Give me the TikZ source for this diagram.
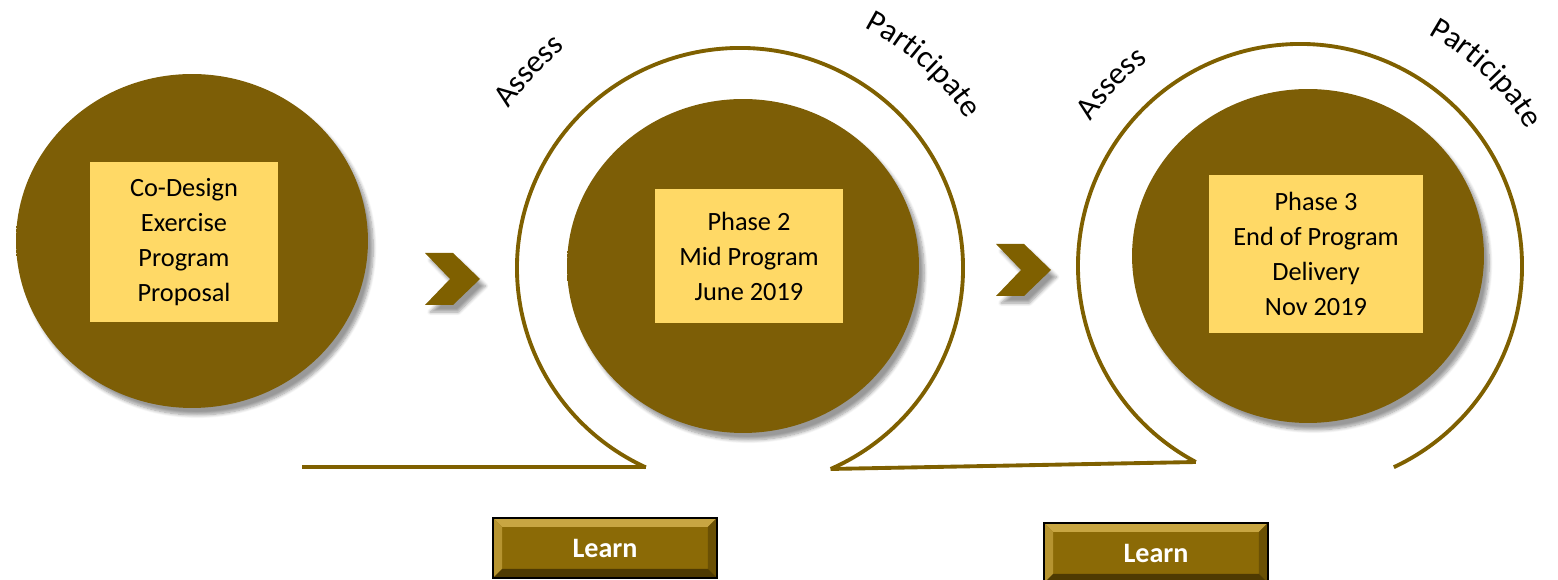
\documentclass[tikz,border=0pt]{standalone}
\usepackage{fontspec}
\setmainfont{Carlito}
\usetikzlibrary{shapes.geometric,calc,shadows,shadows.blur,decorations.text}

\definecolor{ochre}{RGB}{127,96,0}
\definecolor{orbcore}{RGB}{125,94,6}
\definecolor{orbrim}{RGB}{184,152,58}
\definecolor{notefill}{RGB}{255,217,102}
\definecolor{learnfill}{RGB}{139,106,6}
\definecolor{learnlight}{RGB}{200,166,66}
\definecolor{learndark}{RGB}{78,58,2}

\pgfdeclareradialshading{orbshade}{\pgfpoint{0bp}{0bp}}{color(0bp)=(orbcore); color(37bp)=(orbcore); color(46bp)=(orbcore!80!orbrim); color(50bp)=(orbrim)}

\newcommand{\labelfont}{\fontsize{18}{20}\selectfont}
\newcommand{\bevel}{%
  \path (path picture bounding box.north west) coordinate (bnw)
        (path picture bounding box.north east) coordinate (bne)
        (path picture bounding box.south west) coordinate (bsw)
        (path picture bounding box.south east) coordinate (bse);
  \fill[learnlight] (bnw) -- (bne) -- ++(-9,-9) -- ($(bnw)+(9,-9)$) -- cycle;
  \fill[learnlight!70!learnfill] (bnw) -- (bsw) -- ++(9,9) -- ($(bnw)+(9,-9)$) -- cycle;
  \fill[learndark!55!learnfill] (bne) -- (bse) -- ++(-9,9) -- ($(bne)+(-9,-9)$) -- cycle;
  \fill[learndark] (bsw) -- (bse) -- ++(-9,9) -- ($(bsw)+(9,9)$) -- cycle;
}

\tikzstyle{ring} = [draw=ochre,line width=2.2pt]
\tikzstyle{orb} = [ellipse,minimum width=7.04cm,minimum height=6.68cm,inner sep=0pt,shading=orbshade,
  blur shadow={shadow xshift=3pt,shadow yshift=-4pt,shadow blur steps=8}]
\tikzstyle{note} = [rectangle,fill=notefill,inner sep=0pt,align=center,font=\fontsize{15}{19.9}\selectfont]
\tikzstyle{chevron} = [fill=ochre,blur shadow={shadow xshift=3pt,shadow yshift=-4pt,shadow blur steps=6}]
\tikzstyle{learn} = [rectangle,draw=black,line width=1.2pt,fill=learnfill,minimum width=4.48cm,minimum height=1.2cm,
  text=white,font=\fontsize{16}{19}\selectfont\bfseries,path picture={\bevel}]

\begin{document}
\begin{tikzpicture}[x=0.02cm,y=0.02cm]
  \useasboundingbox (0,0) rectangle (1558,580);
  %rings
  \coordinate (hubB) at (740,312);
  \coordinate (hubC) at (1300,314);
  \path (hubB) ++(245:223 and 220) coordinate (tipA);
  \path (hubC) ++(242:222) coordinate (tipC);
  \coordinate (lineA) at (302,0 |- tipA);
  \draw[ring] (tipA) arc[start angle=245,end angle=-66,x radius=223,y radius=220] coordinate (tipB);
  \draw[ring] (tipC) arc[start angle=242,end angle=-65,radius=222] coordinate (tipD);
  \draw[ring] (lineA) -- (tipA);
  \draw[ring] (tipB) -- (tipC);

  %orbs
  \foreach \name/\x/\y/\nx/\ny/\w/\h/\lines in {
    orbA/192/339/184/338/3.76/3.22/{Co-Design\\Exercise\\Program\\Proposal},
    orbB/743/314/749/324/3.76/2.70/{Phase 2\\Mid Program\\June 2019},
    orbC/1308/324/1316/326/4.30/3.16/{Phase 3\\End of Program\\Delivery\\Nov 2019}}
  {
    \node[orb] (\name) at (\x,\y) {};
    \node[note,minimum width=\w cm,minimum height=\h cm] (\name-note) at (\nx,\ny) {\lines};
  };

  %chevrons
  \foreach \name/\x/\y in {chevA/452/301, chevB/1023/310}
  {
    \coordinate (\name) at (\x,\y);
    \fill[chevron] (\name) ++(-27,26) -- ++(28,0) -- ++(27,-26) -- ++(-27,-26) -- ++(-28,0) -- ++(25,26) -- cycle;
  };

  %labels round the rings
  \foreach \hub/\word/\r/\c in {hubB/Assess/281/137, hubB/Participate/271/48,
    hubC/Assess/255/136, hubC/Participate/265/46}
  {
    \pgfmathsetmacro\sa{\c+30}
    \pgfmathsetmacro\ea{\c-30}
    \path (\hub) ++(\sa:\r) coordinate (lbl);
    \path[decorate,decoration={text along path,text align=center,
      text/.expanded={|\noexpand\labelfont|\word}}] (lbl) arc[start angle=\sa,end angle=\ea,radius=\r];
  };

  %learn buttons
  \node[learn] (learnB) at (605,32) {Learn};
  \node[learn] (learnC) at (1156,27) {Learn};
\end{tikzpicture}
\end{document}
